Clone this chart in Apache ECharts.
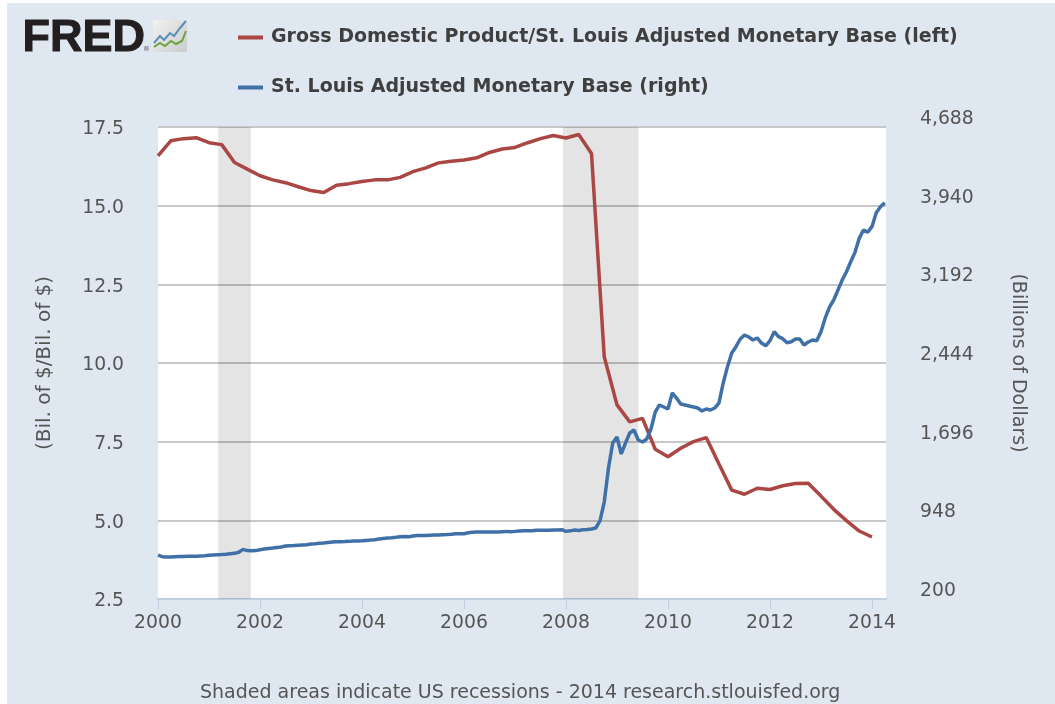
<!DOCTYPE html>
<html><head><meta charset="utf-8">
<style>
html,body{margin:0;padding:0;background:#fff;overflow:hidden}
#bg{position:absolute;left:7px;top:3px;width:1048px;height:701px;background:#dfe7f0}
#c{position:absolute;left:0;top:0;width:1055px;height:704px}
</style>
<script src="https://cdn.jsdelivr.net/npm/echarts@6/dist/echarts.min.js"></script>
</head><body><div id="bg"></div><div id="c"></div>
<script>
const ratioName = 'Gross Domestic Product/St. Louis Adjusted Monetary Base (left)';
const baseName = 'St. Louis Adjusted Monetary Base (right)';
const startYear = 2000;
// Quarterly from 2000 Q1
const ratioValues = [
 16.58,17.06,17.13,17.16,17.00,16.94,16.37,16.16,15.95,15.82,15.73,15.60,
 15.48,15.42,15.65,15.70,15.77,15.82,15.82,15.90,16.08,16.20,16.36,16.41,
 16.45,16.52,16.69,16.80,16.85,17.00,17.13,17.23,17.15,17.26,16.66,10.20,
 8.67,8.13,8.24,7.26,7.02,7.29,7.50,7.63,6.79,5.96,5.83,6.02,
 5.98,6.10,6.17,6.18,5.77,5.35,4.99,4.66,4.47];
// Monthly from 2000-01
const baseValues = [
 618,602,599,600,602,604,605,606,606,607,610,612,
 616,619,621,623,626,630,634,645,672,660,658,660,
 669,675,680,684,690,695,704,706,708,711,714,716,
 723,726,730,733,738,742,744,745,746,748,752,752,
 754,757,760,764,770,776,780,783,787,792,795,792,
 799,803,804,803,806,808,808,812,813,816,821,820,
 821,830,834,838,837,838,837,837,837,840,843,840,
 843,847,849,850,850,853,853,854,853,855,857,859,
 843,848,856,852,858,860,866,875,942,1122,1446,1683,
 1740,1579,1683,1778,1807,1712,1693,1721,1816,1978,2045,2026,
 2007,2159,2111,2054,2045,2035,2026,2016,1988,2007,1997,2016,
 2064,2254,2409,2539,2599,2672,2710,2691,2663,2682,2634,2608,
 2656,2741,2694,2675,2637,2646,2672,2672,2615,2644,2663,2656,
 2741,2872,2976,3043,3138,3233,3312,3407,3496,3629,3708,3689,
 3740,3873,3930,3968];
const recessions = [[2001.18,2001.82],[2007.94,2009.42]];
const leftTicks = {min:2.5,max:17.5,interval:2.5};
const rightTicks = {min:200,max:4688,interval:748};
const xRange = {min:2000,max:2014.275,interval:2};
const footerText = 'Shaded areas indicate US recessions - 2014 research.stlouisfed.org';

const ratioData = ratioValues.map((v,i)=>[startYear+i/4,v]);
const baseData = baseValues.map((v,i)=>[startYear+i/12,v]);
const FONT='"DejaVu Sans"';
const TXT='#555';
const chart = echarts.init(document.getElementById('c'),null,{renderer:'canvas'});
chart.setOption({
 animation:false,
 textStyle:{fontFamily:FONT},
 grid:{left:158,top:127,width:728,height:472,show:true,backgroundColor:'#fff',borderWidth:0},
 legend:{
  orient:'vertical',left:233,top:23,itemWidth:25,itemHeight:4,itemGap:31,
  icon:'rect',selectedMode:false,
  textStyle:{fontFamily:FONT,fontWeight:'bold',fontSize:19,color:'#3f3f3f',padding:[0,0,0,3]},
  data:[ratioName,baseName]
 },
 xAxis:{type:'value',min:xRange.min,max:xRange.max,interval:xRange.interval,
  splitLine:{show:false},
  axisLine:{onZero:false,lineStyle:{color:'#c0d0e0',width:2}},
  axisTick:{show:true,length:10,lineStyle:{color:'#c0d0e0',width:1}},
  axisLabel:{color:TXT,fontSize:18.8,margin:15,showMaxLabel:false,formatter:v=>String(v)}
 },
 yAxis:[
  {type:'value',min:leftTicks.min,max:leftTicks.max,interval:leftTicks.interval,
   name:'(Bil. of $/Bil. of $)',nameLocation:'middle',nameRotate:90,nameGap:103,
   nameTextStyle:{color:TXT,fontSize:20,fontFamily:FONT},
   axisLine:{show:false},axisTick:{show:false},
   splitLine:{show:true,lineStyle:{color:'#c8c8c8',width:2}},
   axisLabel:{color:TXT,fontSize:18.8,margin:34,verticalAlign:'top',lineHeight:5,formatter:v=>v.toFixed(1)}},
  {type:'value',position:'right',min:rightTicks.min,max:rightTicks.max,interval:rightTicks.interval,
   name:'(Billions of Dollars)',nameLocation:'middle',nameRotate:-90,nameGap:122,
   nameTextStyle:{color:TXT,fontSize:19,fontFamily:FONT},
   axisLine:{show:false},axisTick:{show:false},splitLine:{show:false},
   axisLabel:{color:TXT,fontSize:18.8,margin:34,align:'left',verticalAlign:'bottom',lineHeight:16,
     formatter:v=>v.toLocaleString('en-US')}}
 ],
 series:[
  {name:ratioName,type:'line',yAxisIndex:0,showSymbol:false,symbol:'none',data:ratioData,
   lineStyle:{color:'#aa4643',width:3.5},itemStyle:{color:'#aa4643'},
   markArea:{silent:true,itemStyle:{color:'rgba(0,0,0,0.105)'},
     data:recessions.map(r=>[{xAxis:r[0]},{xAxis:r[1]}])}},
  {name:baseName,type:'line',yAxisIndex:1,showSymbol:false,symbol:'none',data:baseData,
   lineStyle:{color:'#4070a8',width:3.5},itemStyle:{color:'#4070a8'}}
 ],
 graphic:[
  {type:'text',left:200,top:684,style:{text:footerText,font:'19px "DejaVu Sans"',fill:TXT}},
  {type:'text',left:22,top:16,style:{text:'FRED',font:'bold 45px "Liberation Sans"',fill:'#231f20',stroke:'#231f20',lineWidth:1}},
  {type:'text',left:143,top:46,style:{text:'®',font:'7px "DejaVu Sans"',fill:'#555'}},
  {type:'rect',shape:{x:153,y:20,width:34,height:32,r:2},
   style:{fill:new echarts.graphic.LinearGradient(0,0,1,1,[{offset:0,color:'#f2f2ef'},{offset:1,color:'#c9ccce'}])}},
  {type:'polyline',shape:{points:[[154,43],[160,36],[164,40],[170,33],[174,36],[180,28],[186,21]]},style:{stroke:'#5b8fb5',lineWidth:2,fill:null}},
  {type:'polyline',shape:{points:[[154,47],[160,43],[165,46],[171,41],[176,44],[182,41],[186,31]]},style:{stroke:'#6aa33f',lineWidth:2,fill:null}}
 ]
});
</script></body></html>
